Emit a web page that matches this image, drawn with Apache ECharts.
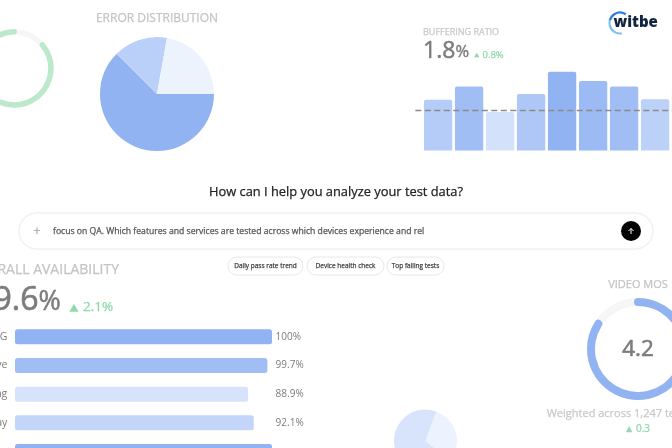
<!DOCTYPE html>
<html>
<head>
<meta charset="utf-8">
<style>
  html, body { margin: 0; padding: 0; background: #fff; overflow: hidden; }
  #chart { width: 672px; height: 448px; }
</style>
<script src="https://cdn.jsdelivr.net/npm/echarts@6/dist/echarts.min.js"></script>
</head>
<body>
<div id="chart"></div>
<script>
var errorShare = [62.5, 15.3, 22.2];
var errorColors = ['#92b3f2', '#bad0f8', '#edf3fd'];
var smallPieShare = [30.5, 69.5];
var smallPieColors = ['#edf3fe', '#d7e4fb'];

var bufferingDays = ['1', '2', '3', '4', '5', '6', '7', '8', '9'];
var bufferingValues = [2.26, 2.84, 1.71, 2.51, 3.5, 3.09, 2.84, 2.28, 2.84];
var bufferingColors = ['#b4ccf7', '#a0bdf4', '#d3e1fb', '#aec7f6', '#92b3f2', '#9cbaf3', '#a0bdf4', '#bcd1f8', '#a0bdf4'];
var bufferingMean = 1.8;

var serviceNames = ['G', 've', 'ng', 'ay', ''];
var serviceWidths = [100, 98.2, 90.7, 92.9, 100];
var serviceLabels = ['100%', '99.7%', '88.9%', '92.1%', ' '];
var serviceColors = ['#92b3f2', '#a0bdf4', '#d6e3fb', '#c3d5f8', '#92b3f2'];

var mosScore = 84;
var greenScore = 86;
var prompts = ['Daily pass rate trend', 'Device health check', 'Top failing tests'];

var font = '"Open Sans", sans-serif';
var chart = echarts.init(document.getElementById('chart'), null, { renderer: 'canvas' });

function label(x, y, text, size, color, align, thick) {
  return {
    type: 'text', x: x, y: y, silent: true,
    style: {
      text: text, fontSize: size, fill: color, fontFamily: font,
      align: align || 'left', verticalAlign: 'middle', fontWeight: 500,
      stroke: color, lineWidth: thick || 0.25
    }
  };
}

function triangle(x1, x2, y1, y2) {
  return {
    type: 'polygon', silent: true,
    shape: { points: [[x1, y2], [x2, y2], [(x1 + x2) / 2, y1]] },
    style: { fill: '#8fd9ab' }
  };
}

function ring(cx, cy, r, width, start, value, color) {
  return {
    type: 'gauge', center: [cx, cy], radius: r, startAngle: start, endAngle: start - 360,
    min: 0, max: 100, silent: true, animation: false,
    pointer: { show: false }, axisTick: { show: false }, splitLine: { show: false },
    axisLabel: { show: false }, detail: { show: false }, title: { show: false },
    axisLine: { lineStyle: { width: width, color: [[1, '#f6f6f6']] } },
    progress: { show: true, roundCap: true, width: width, itemStyle: { color: color } },
    data: [{ value: value }]
  };
}

function pie(cx, cy, r, start, values, colors) {
  return {
    type: 'pie', center: [cx, cy], radius: r, startAngle: start, clockwise: true,
    silent: true, animation: false, label: { show: false }, labelLine: { show: false },
    data: values.map(function (v, i) { return { value: v, itemStyle: { color: colors[i] } }; })
  };
}

var chips = [[228, 75], [307, 77], [387, 57]];
var graphics = [
  label(157, 18.5, 'ERROR DISTRIBUTION', 12, '#c4c4c4', 'center'),
  label(423, 32, 'BUFFERING RATIO', 9, '#c8c8c8'),
  label(423, 51, '1.8', 23, '#7c7c7c', 'left', 0.5),
  label(455.5, 52.5, '%', 16.5, '#7c7c7c', 'left', 0.4),
  triangle(474, 479.5, 52.7, 57.3),
  label(482.5, 55, '0.8%', 9.5, '#8fd9ab'),
  label(336, 192.5, 'How can I help you analyze your test data?', 12.85, '#222222', 'center'),
  {
    type: 'rect', silent: true,
    shape: { x: 19, y: 213, width: 634, height: 36, r: 18 },
    style: { fill: '#fff', stroke: '#eeeeee', lineWidth: 1, shadowBlur: 2, shadowColor: 'rgba(0,0,0,0.04)' }
  },
  label(37, 231, '+', 13, '#b0b0b0', 'center'),
  label(53, 231.5, 'focus on QA. Which features and services are tested across which devices experience and rel', 8.65, '#555555'),
  { type: 'circle', silent: true, shape: { cx: 631, cy: 231, r: 10 }, style: { fill: '#000' } },
  { type: 'polyline', silent: true, shape: { points: [[628.5, 231], [631, 228.5], [633.5, 231]] }, style: { fill: 'none', stroke: '#fff', lineWidth: 1 } },
  { type: 'line', silent: true, shape: { x1: 631, y1: 228.5, x2: 631, y2: 234 }, style: { stroke: '#fff', lineWidth: 1 } },
  label(119, 270.5, 'OVERALL AVAILABILITY', 14, '#c4c4c4', 'right'),
  label(38.5, 300.5, '99.6', 32, '#7c7c7c', 'right', 0.7),
  label(38.5, 302.5, '%', 27, '#7c7c7c', 'left', 0.5),
  triangle(69.3, 78.7, 304, 311.7),
  label(83, 307, '2.1%', 13.5, '#8fd9ab'),
  label(638, 285, 'VIDEO MOS', 11, '#c4c4c4', 'center'),
  label(638, 350, '4.2', 22.5, '#7c7c7c', 'center', 0.6),
  label(546.7, 414, 'Weighted across 1,247 tests', 11, '#c8c8c8'),
  triangle(626, 632.3, 426, 432.3),
  label(636, 429, '0.3', 10, '#8fd9ab'),
  // logo
  {
    type: 'arc', silent: true, shape: { cx: 620, cy: 23, r: 10.5, startAngle: 1.4, endAngle: 3.4, clockwise: true },
    style: { fill: 'none', stroke: '#7fc1ee', lineWidth: 2.2 }
  },
  {
    type: 'arc', silent: true, shape: { cx: 620, cy: 23, r: 10.5, startAngle: 3.4, endAngle: 5.3, clockwise: true },
    style: { fill: 'none', stroke: '#2f7fd8', lineWidth: 2.2 }
  },
  { type: 'text', x: 613.5, y: 23, silent: true, style: { text: 'witbe', fontSize: 15, fontWeight: 800, fontFamily: font, fill: '#12243f', verticalAlign: 'middle', stroke: '#fff', lineWidth: 1.5 } }
];
prompts.forEach(function (p, i) {
  graphics.push({
    type: 'rect', silent: true,
    shape: { x: chips[i][0], y: 257, width: chips[i][1], height: 18, r: 9 },
    style: { fill: '#fff', stroke: '#e8e8e8', lineWidth: 1 }
  });
  graphics.push(label(chips[i][0] + chips[i][1] / 2, 266, p, 6.5, '#444444', 'center'));
});

var option = {
  animation: false,
  backgroundColor: '#ffffff',
  grid: [
    { left: 422.6, top: 60.5, width: 279, height: 90, outerBoundsMode: 'none' },
    { left: 15, top: 322.5, width: 257, height: 143.25, outerBoundsMode: 'none' }
  ],
  xAxis: [
    { gridIndex: 0, type: 'category', data: bufferingDays, show: false },
    { gridIndex: 1, type: 'value', min: 0, max: 100, show: false }
  ],
  yAxis: [
    { gridIndex: 0, type: 'value', min: 0, max: 4, show: false },
    {
      gridIndex: 1, type: 'category', inverse: true, data: serviceNames,
      axisLine: { show: false }, axisTick: { show: false }, splitLine: { show: false },
      axisLabel: { margin: 7.7, fontSize: 10.5, fontWeight: 500, color: '#7c7c7c', fontFamily: font, padding: [2, 0, 0, 0] }
    },
    {
      gridIndex: 1, type: 'category', inverse: true, position: 'right', data: serviceLabels,
      axisLine: { show: false }, axisTick: { show: false }, splitLine: { show: false },
      axisLabel: { margin: 3.6, fontSize: 10, fontWeight: 500, color: '#7c7c7c', fontFamily: font, padding: [2, 0, 0, 0] }
    }
  ],
  series: [
    pie(157, 94, 57, 0, errorShare, errorColors),
    pie(425.5, 441, 31.5, 70, smallPieShare, smallPieColors),
    ring(14.4, 68.4, 39.3, 5.5, 40, greenScore, '#bce8cc'),
    ring(638, 349, 51, 8, 90, mosScore, '#92b3f2'),
    {
      type: 'bar', xAxisIndex: 0, yAxisIndex: 0, barWidth: 28.3, silent: true,
      data: bufferingValues.map(function (v, i) {
        return { value: v, itemStyle: { color: bufferingColors[i], borderRadius: [2, 2, 0, 0] } };
      }),
      markLine: {
        silent: true, symbol: 'none', label: { show: false },
        lineStyle: { type: [6, 3.5], color: '#8a8a8a', width: 1.3 },
        data: [[{ x: 415.3, yAxis: bufferingMean }, { x: 672, yAxis: bufferingMean }]]
      }
    },
    {
      type: 'bar', xAxisIndex: 1, yAxisIndex: 1, barWidth: 15, silent: true,
      data: serviceWidths.map(function (v, i) {
        return { value: v, itemStyle: { color: serviceColors[i], borderRadius: 2.5 } };
      })
    }
  ],
  graphic: graphics
};
chart.setOption(option);
</script>
</body>
</html>
